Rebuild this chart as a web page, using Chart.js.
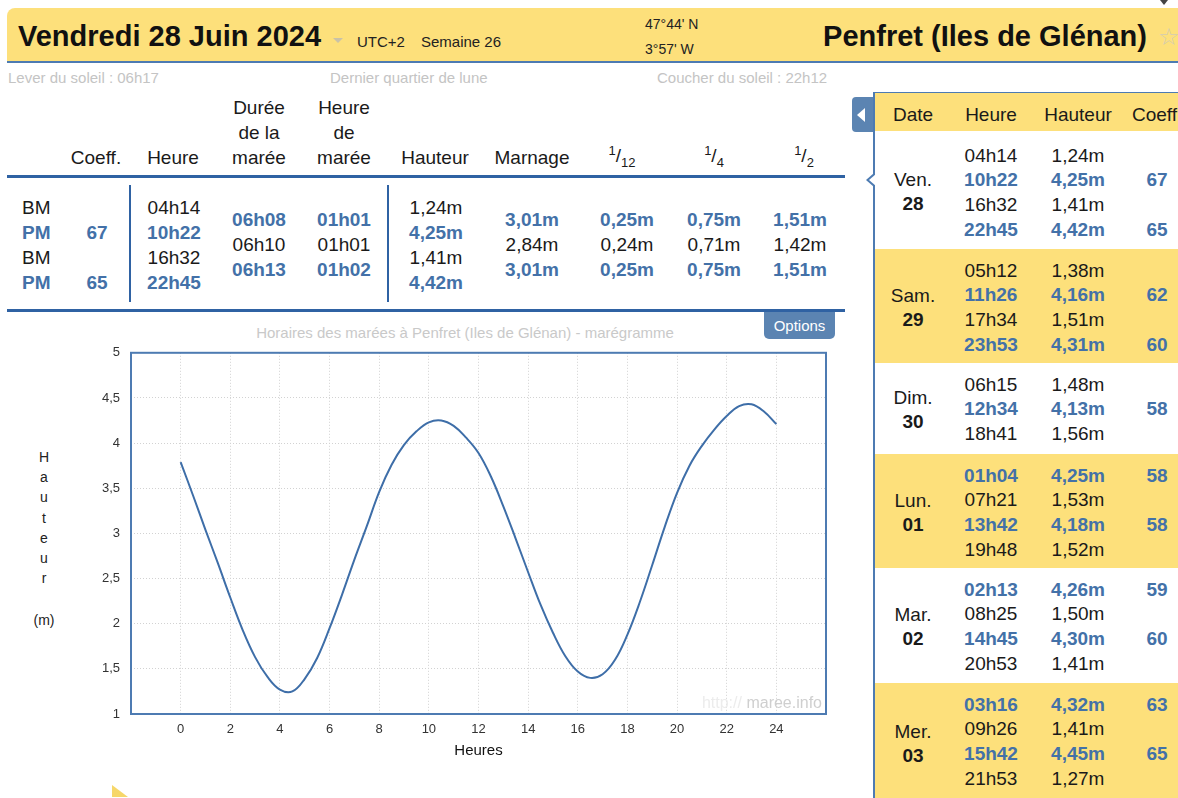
<!DOCTYPE html>
<html lang="fr">
<head>
<meta charset="utf-8">
<title>Marées Penfret</title>
<script src="https://cdn.jsdelivr.net/npm/chart.js@4.4.0/dist/chart.umd.min.js"></script>
<style>
  body { margin: 0; width: 1178px; height: 798px; overflow: hidden; background: #fff;
         font-family: "Liberation Sans", Arial, sans-serif; color: #1a1a1a; position: relative; }
  .abs { position: absolute; white-space: nowrap; line-height: 1; }
  .c { text-align: center; width: 300px; }
  .blue { color: #4371a8; font-weight: bold; }
  #header { position: absolute; left: 7px; top: 8px; width: 1200px; height: 53px; background: #fde07b;
            border-bottom: 2px solid #4d7bb2; border-top-left-radius: 8px; }
  .hline { position: absolute; background: #2f62a3; }
  sup, sub { font-size: 13px; line-height: 0; }
  #panel { position: absolute; left: 873px; top: 92px; width: 320px; height: 720px;
           border-left: 2px solid #4d7bb2; border-top: 1px solid #4d7bb2; }
  .band { position: absolute; left: 0; width: 320px; }
  #tab { position: absolute; left: 852px; top: 97px; width: 21px; height: 35px; background: #5b84b2;
         border-radius: 4px 0 0 4px; }
  #options { position: absolute; left: 764px; top: 312px; width: 71px; height: 27px; background: #5b84b2;
             border-radius: 0 0 5px 5px; color: #fff; font-size: 15px; text-align: center; line-height: 27px; }
  #chartBox { position: absolute; left: 0; top: 334px; width: 850px; height: 431px; }
</style>
</head>
<body>
<div id="header"></div>
<div id="page"></div>
<div id="panel"></div>
<div id="tab"></div>
<div id="options">Options</div>
<div id="chartBox"><canvas id="maregramme"></canvas></div>
<div id="overlay"></div>

<script>
const heures = [0, 0.5, 1, 1.5, 2, 2.5, 3, 3.5, 4, 4.5, 5, 5.5, 6, 6.5, 7, 7.5, 8, 8.5, 9, 9.5, 10,
  10.5, 11, 11.5, 12, 12.5, 13, 13.5, 14, 14.5, 15, 15.5, 16, 16.5, 17, 17.5, 18, 18.5, 19, 19.5, 20, 20.5, 21,
  21.5, 22, 22.5, 23, 23.5, 24];
const hauteurs = [3.79, 3.42, 3.04, 2.67, 2.29, 1.93, 1.63, 1.41, 1.27, 1.25, 1.39, 1.62, 1.95, 2.32, 2.71,
  3.08, 3.46, 3.76, 3.98, 4.13, 4.23, 4.25, 4.19, 4.06, 3.89, 3.63, 3.3, 2.94, 2.57, 2.21, 1.9, 1.64, 1.47,
  1.4, 1.44, 1.6, 1.88, 2.24, 2.65, 3.07, 3.45, 3.75, 3.97, 4.15, 4.3, 4.41, 4.43, 4.35, 4.21];
const ticksX = [0, 2, 4, 6, 8, 10, 12, 14, 16, 18, 20, 22, 24];

// --- tableau du jour ---
const typesMaree = ["BM", "PM", "BM", "PM"];
const coeffsJour = ["", "67", "", "65"];
const heuresJour = ["04h14", "10h22", "16h32", "22h45"];
const hauteursJour = ["1,24m", "4,25m", "1,41m", "4,42m"];
const durees = ["06h08", "06h10", "06h13"];
const heuresMaree = ["01h01", "01h01", "01h02"];
const marnages = ["3,01m", "2,84m", "3,01m"];
const douzieme = ["0,25m", "0,24m", "0,25m"];
const quart = ["0,75m", "0,71m", "0,75m"];
const demi = ["1,51m", "1,42m", "1,51m"];

// --- semaine ---
const jours = ["Ven.", "Sam.", "Dim.", "Lun.", "Mar.", "Mer."];
const numeros = ["28", "29", "30", "01", "02", "03"];
const semaine = [
  [["04h14", "1,24m", ""], ["10h22", "4,25m", "67"], ["16h32", "1,41m", ""], ["22h45", "4,42m", "65"]],
  [["05h12", "1,38m", ""], ["11h26", "4,16m", "62"], ["17h34", "1,51m", ""], ["23h53", "4,31m", "60"]],
  [["06h15", "1,48m", ""], ["12h34", "4,13m", "58"], ["18h41", "1,56m", ""]],
  [["01h04", "4,25m", "58"], ["07h21", "1,53m", ""], ["13h42", "4,18m", "58"], ["19h48", "1,52m", ""]],
  [["02h13", "4,26m", "59"], ["08h25", "1,50m", ""], ["14h45", "4,30m", "60"], ["20h53", "1,41m", ""]],
  [["03h16", "4,32m", "63"], ["09h26", "1,41m", ""], ["15h42", "4,45m", "65"], ["21h53", "1,27m", ""]]
];

const page = document.getElementById("page");
const overlay = document.getElementById("overlay");
function put(parent, html, x, y, size, opts) {
  opts = opts || {};
  const el = document.createElement("div");
  el.className = "abs" + (opts.align === "center" ? " c" : "") + (opts.blue ? " blue" : "");
  el.innerHTML = html;
  el.style.fontSize = size + "px";
  el.style.top = (y - size / 2) + "px";
  if (opts.align === "center") el.style.left = (x - 150) + "px";
  else if (opts.align === "right") { el.style.right = (1178 - x) + "px"; }
  else el.style.left = x + "px";
  if (opts.bold) el.style.fontWeight = "bold";
  if (opts.color) el.style.color = opts.color;
  if (opts.style) Object.assign(el.style, opts.style);
  parent.appendChild(el);
  return el;
}
function bar(parent, x, y, w, h, color) {
  const el = document.createElement("div");
  el.className = "hline";
  Object.assign(el.style, { left: x + "px", top: y + "px", width: w + "px", height: h + "px" });
  if (color) el.style.background = color;
  parent.appendChild(el);
}
function tri(x, y, css) {
  put(overlay, "", x, y, 0, { style: Object.assign({ width: "0", height: "0" }, css) });
}

// en-tête
put(page, "Vendredi 28 Juin 2024", 18, 36, 29, { bold: true, color: "#111" });
tri(333, 38, { borderLeft: "5px solid transparent", borderRight: "5px solid transparent", borderTop: "5px solid #c9c2a8" });
put(page, "UTC+2", 357, 41, 15, { color: "#222" });
put(page, "Semaine 26", 421, 41, 15, { color: "#222" });
put(page, "47°44' N", 645, 24, 14, { color: "#222" });
put(page, "3°57' W", 645, 49, 14, { color: "#222" });
put(page, "Penfret (Iles de Glénan)", 1147, 36, 29, { bold: true, align: "right", color: "#111" });
put(page, "☆", 1158, 37, 24, { color: "#d3ccb2" });
tri(1160, 0, { borderLeft: "4px solid transparent", borderRight: "4px solid transparent", borderTop: "5px solid #444" });

put(page, "Lever du soleil : 06h17", 8, 77, 15, { color: "#c4c4c4" });
put(page, "Dernier quartier de lune", 330, 77, 15, { color: "#c4c4c4" });
put(page, "Coucher du soleil : 22h12", 657, 77, 15, { color: "#c4c4c4" });

// tableau gauche : en-têtes
const fs = 19;
put(page, "Coeff.", 96, 157, fs, { align: "center" });
put(page, "Heure", 173, 157, fs, { align: "center" });
["Durée", "de la", "marée"].forEach((t, i) => put(page, t, 259, 107 + i * 25, fs, { align: "center" }));
["Heure", "de", "marée"].forEach((t, i) => put(page, t, 344, 107 + i * 25, fs, { align: "center" }));
put(page, "Hauteur", 435, 157, fs, { align: "center" });
put(page, "Marnage", 532, 157, fs, { align: "center" });
put(page, "<sup>1</sup>/<sub>12</sub>", 622, 155, fs, { align: "center" });
put(page, "<sup>1</sup>/<sub>4</sub>", 714, 155, fs, { align: "center" });
put(page, "<sup>1</sup>/<sub>2</sub>", 804, 155, fs, { align: "center" });
bar(page, 7, 175, 838, 3);
bar(page, 7, 309, 838, 3);
bar(page, 129, 185, 2, 117);
bar(page, 387, 185, 2, 117);

// tableau gauche : valeurs
typesMaree.forEach((t, i) => {
  const y = 207 + i * 25, pm = t === "PM";
  put(page, t, 22, y, fs, { blue: pm });
  put(page, coeffsJour[i], 97, y, fs, { align: "center", blue: pm });
  put(page, heuresJour[i], 174, y, fs, { align: "center", blue: pm });
  put(page, hauteursJour[i], 436, y, fs, { align: "center", blue: pm });
});
[[durees, 259], [heuresMaree, 344], [marnages, 532], [douzieme, 627], [quart, 714], [demi, 800]].forEach(([col, x]) => {
  col.forEach((v, i) => put(page, v, x, 219 + i * 25, fs, { align: "center", blue: i !== 1 }));
});

// panneau droit
const panel = document.getElementById("panel");
const px = 873, py = 92;
const hb = document.createElement("div");
hb.className = "band";
Object.assign(hb.style, { top: "0px", height: "38px", background: "#fde07b" });
panel.appendChild(hb);
put(panel, "Date", 911 - px, 113 - py, fs, { align: "center" });
put(panel, "Heure", 989 - px, 113 - py, fs, { align: "center" });
put(panel, "Hauteur", 1076 - px, 113 - py, fs, { align: "center" });
put(panel, "Coeff.", 1130 - px, 113 - py, fs);

const debuts = [131, 248, 362, 453, 567, 682];
semaine.forEach((lignes, j) => {
  const top = debuts[j], fin = j < 5 ? debuts[j + 1] : 800;
  const b = document.createElement("div");
  b.className = "band";
  Object.assign(b.style, { top: (top - py) + "px", height: (fin - top) + "px", background: j % 2 ? "#fde07b" : "#fff" });
  panel.appendChild(b);
  const mid = (top + fin) / 2 - py;
  put(panel, jours[j], 911 - px, mid - 11, fs, { align: "center" });
  put(panel, numeros[j], 911 - px, mid + 13, fs, { align: "center", bold: true });
  const first = top + (j === 0 ? 23 : 21);
  lignes.forEach((l, i) => {
    const y = first + i * 24.8 - py, pm = l[2] !== "";
    put(panel, l[0], 989 - px, y, fs, { align: "center", blue: pm });
    put(panel, l[1], 1076 - px, y, fs, { align: "center", blue: pm });
    put(panel, l[2], 1155 - px, y, fs, { align: "center", blue: pm });
  });
});
// encoche du jour courant
tri(866, 173, { borderTop: "7px solid transparent", borderBottom: "7px solid transparent", borderRight: "8px solid #4d7bb2" });
tri(869, 174, { borderTop: "6px solid transparent", borderBottom: "6px solid transparent", borderRight: "7px solid #fff" });
// flèche de l'onglet
tri(857, 108, { borderTop: "7px solid transparent", borderBottom: "7px solid transparent", borderRight: "8px solid #fff" });

// textes autour du graphe
put(page, "Horaires des marées à Penfret (Iles de Glénan) - marégramme", 465, 332, 15, { align: "center", color: "#c9c9c9",
  style: { width: "600px", left: "165px" } });
["H", "a", "u", "t", "e", "u", "r"].forEach((l, i) => put(page, l, 44, 457 + i * 20.2, 14, { align: "center", color: "#222" }));
put(page, "(m)", 44, 620, 14, { align: "center", color: "#222" });
put(overlay, '<span style="color:#ececec">http://</span> maree.info', 822, 703, 16, { align: "right", color: "#cfcfcf" });
tri(112, 785, { borderLeft: "16px solid #f6d76a", borderTop: "12px solid transparent" });

// marégramme
const points = heures.map((h, i) => ({ x: h, y: hauteurs[i] }));
const cadre = {
  id: "cadre",
  afterDraw(chart) {
    const { ctx, chartArea: a } = chart;
    ctx.save();
    ctx.strokeStyle = "#4d7bb2";
    ctx.lineWidth = 2;
    ctx.strokeRect(a.left, a.top, a.right - a.left, a.bottom - a.top);
    ctx.restore();
  }
};

new Chart(document.getElementById("maregramme"), {
  type: "line",
  data: {
    datasets: [{
      label: "Hauteur",
      data: points,
      borderColor: "#3e6ea8",
      borderWidth: 2,
      pointRadius: 0,
      tension: 0.4,
      fill: false
    }]
  },
  options: {
    responsive: true,
    maintainAspectRatio: false,
    animation: false,
    layout: { padding: { top: 8, right: 24, left: 0, bottom: 0 } },
    plugins: { legend: { display: false }, tooltip: { enabled: false } },
    scales: {
      x: {
        type: "linear",
        min: -2,
        max: 26,
        afterBuildTicks: (s) => { s.ticks = [-2].concat(ticksX, [26]).map((v) => ({ value: v })); },
        afterFit: (s) => { s.height = 51; },
        grid: { color: "#d2d2d2", drawTicks: false },
        border: { display: false, dash: [1, 2] },
        ticks: {
          autoSkip: false, maxRotation: 0, padding: 8, color: "#333",
          font: { family: "'Liberation Sans', Arial", size: 13 },
          callback: (v) => (ticksX.includes(v) ? String(v) : "")
        },
        title: { display: true, text: "Heures", color: "#111", padding: { top: 0, bottom: 5 },
                 font: { family: "'Liberation Sans', Arial", size: 15 } }
      },
      y: {
        min: 1,
        max: 5,
        afterFit: (s) => { s.width = 131; },
        grid: { color: "#d2d2d2", drawTicks: false },
        border: { display: false, dash: [1, 2] },
        ticks: {
          stepSize: 0.5, padding: 11, color: "#333",
          font: { family: "'Liberation Sans', Arial", size: 13 },
          callback: (v) => String(v).replace(".", ",")
        }
      }
    }
  },
  plugins: [cadre]
});
</script>
</body>
</html>
